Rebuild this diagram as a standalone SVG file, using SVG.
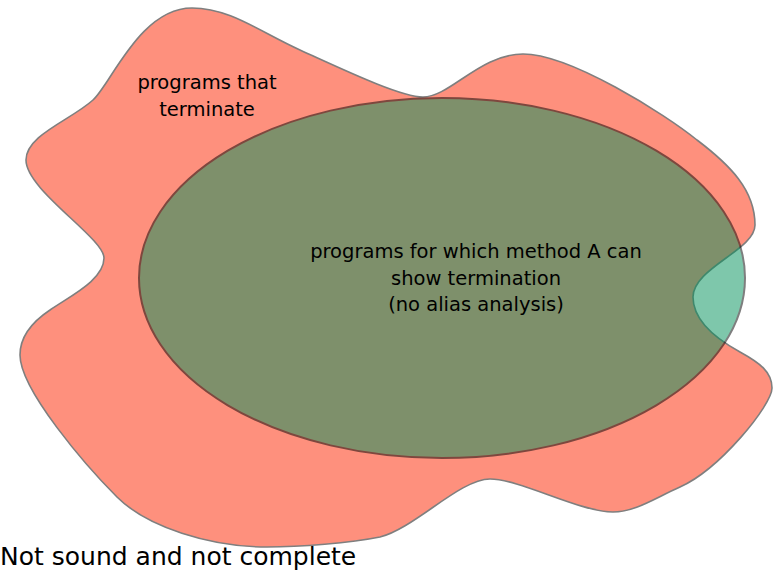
<svg xmlns="http://www.w3.org/2000/svg" width="774" height="572" viewBox="0 0 774 572">
  <style>
    .label { font-family: "DejaVu Sans", "Liberation Sans", sans-serif; fill: #000; text-anchor: middle; }
    .region-outer { fill: #fe907d; stroke: #7f7f7f; stroke-width: 1.6; }
    .region-inner { opacity: 0.5; }
    .region-inner ellipse { fill: #00915a; stroke: #000; stroke-width: 2; }
  </style>
  <rect width="774" height="572" fill="#fff"/>

  <!-- programs that terminate -->
  <g id="terminating">
    <path class="region-outer" d="M192,8 C230,8 260,32 300,50 C340,68 400,97 423,97 C450,97 480,54 523,54 C570,54 665,114 697,140 C730,165 755,190 755,225 C755,250 693,268 693,297 C693,322 720,341 740,352 C760,363 772,372 772,388 C772,405 720,469 680,487 C655,498 635,512 613,512 C580,512 520,479 490,479 C460,479 415,528 380,537 C350,543 300,547 267,547 C210,547 147,527 117,497 C87,467 20,390 20,355 C20,335 35,320 50,310 C70,296 104,280 104,258 C104,238 26,190 26,160 C26,135 71,120 93,100 C111,84 140,8 192,8 Z"/>
    <text class="label" x="207" y="89" font-size="19.5">programs that</text>
    <text class="label" x="207" y="116" font-size="19.5">terminate</text>
  </g>

  <!-- programs for which method A can show termination -->
  <g id="method-a">
    <g class="region-inner">
      <ellipse cx="442" cy="278" rx="303" ry="180"/>
    </g>
    <text class="label" x="476" y="258" font-size="19.5">programs for which method A can</text>
    <text class="label" x="476" y="285" font-size="19.5">show termination</text>
    <text class="label" x="476" y="311" font-size="19.5">(no alias analysis)</text>
  </g>

  <g id="connectors"/>

  <text id="caption" x="0" y="565" font-size="25" style="font-family: 'DejaVu Sans', 'Liberation Sans', sans-serif; fill: #000;">Not sound and not complete</text>
</svg>
